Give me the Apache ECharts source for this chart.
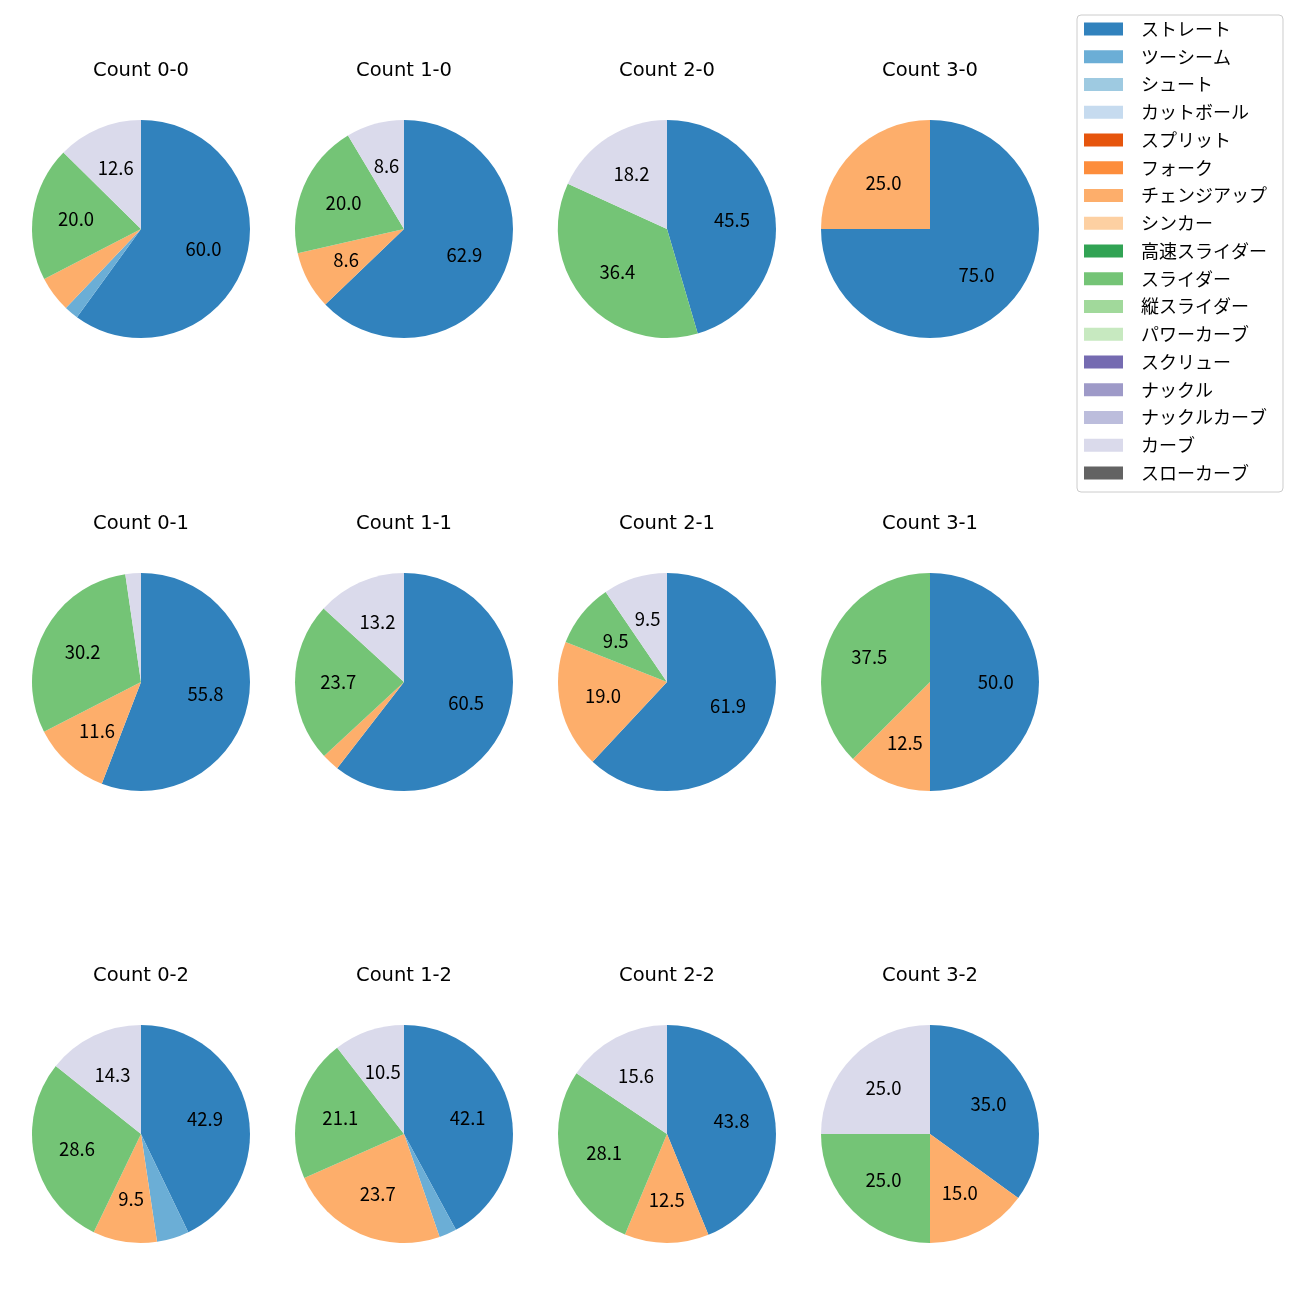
<!DOCTYPE html>
<html><head><meta charset="utf-8">
<script src="https://cdn.jsdelivr.net/npm/echarts@6/dist/echarts.min.js"></script>
<style>html,body{margin:0;padding:0;background:#fff}#c{width:1300px;height:1300px}</style>
</head><body><div id="c"></div>
<script>
const pitchTypes = ['ストレート','ツーシーム','シュート','カットボール','スプリット','フォーク','チェンジアップ','シンカー','高速スライダー','スライダー','縦スライダー','パワーカーブ','スクリュー','ナックル','ナックルカーブ','カーブ','スローカーブ'];
const palette = ['#3182bd','#6baed6','#9ecae1','#c6dbef','#e6550d','#fd8d3c','#fdae6b','#fdd0a2','#31a354','#74c476','#a1d99b','#c7e9c0','#756bb1','#9e9ac8','#bcbddc','#dadaeb','#636363'];
const countLabels = ['0-0','1-0','2-0','3-0','0-1','1-1','2-1','3-1','0-2','1-2','2-2','3-2'];
// percentages per pitch type (same order as pitchTypes)
const c00 = [60.0,2.1,0,0,0,0,5.3,0,0,20.0,0,0,0,0,0,12.6,0];
const c10 = [62.9,0,0,0,0,0,8.6,0,0,20.0,0,0,0,0,0,8.6,0];
const c20 = [45.5,0,0,0,0,0,0,0,0,36.4,0,0,0,0,0,18.2,0];
const c30 = [75.0,0,0,0,0,0,25.0,0,0,0,0,0,0,0,0,0,0];
const c01 = [55.8,0,0,0,0,0,11.6,0,0,30.2,0,0,0,0,0,2.3,0];
const c11 = [60.5,0,0,0,0,0,2.6,0,0,23.7,0,0,0,0,0,13.2,0];
const c21 = [61.9,0,0,0,0,0,19.0,0,0,9.5,0,0,0,0,0,9.5,0];
const c31 = [50.0,0,0,0,0,0,12.5,0,0,37.5,0,0,0,0,0,0,0];
const c02 = [42.9,4.8,0,0,0,0,9.5,0,0,28.6,0,0,0,0,0,14.3,0];
const c12 = [42.1,2.6,0,0,0,0,23.7,0,0,21.1,0,0,0,0,0,10.5,0];
const c22 = [43.8,0,0,0,0,0,12.5,0,0,28.1,0,0,0,0,0,15.6,0];
const c32 = [35.0,0,0,0,0,0,15.0,0,0,25.0,0,0,0,0,0,25.0,0];
const allCounts = [c00,c10,c20,c30,c01,c11,c21,c31,c02,c12,c22,c32];

const FONT = '"Noto Sans CJK JP", "Noto Sans", sans-serif';
const TITLE_FONT = '"DejaVu Sans", sans-serif';
const colX = [141, 404, 667, 930];
const rowY = [229, 682, 1134];
const R = 109;

const series = [];
const titles = [];
allCounts.forEach((vals, i) => {
  const cx = colX[i % 4], cy = rowY[Math.floor(i / 4)];
  titles.push({
    text: 'Count ' + countLabels[i], left: cx, top: cy - 158,
    textAlign: 'center', textVerticalAlign: 'middle', padding: 0,
    textStyle: { fontSize: 19.5, fontWeight: 'normal', color: '#000', fontFamily: TITLE_FONT }
  });
  series.push({
    type: 'pie', center: [cx, cy], radius: [0, R], startAngle: 90, clockwise: true,
    avoidLabelOverlap: false, silent: true, animation: false,
    label: { show: false }, labelLine: { show: false },
    data: pitchTypes.map((n, k) => ({ name: n, value: vals[k], itemStyle: { color: palette[k], borderWidth: 0 } }))
  });
  series.push({
    type: 'pie', center: [cx, cy], radius: [R * 0.15, R], startAngle: 90, clockwise: true,
    avoidLabelOverlap: false, silent: true, animation: false,
    itemStyle: { color: 'rgba(0,0,0,0)', borderWidth: 0 },
    label: {
      show: true, position: 'inside', color: '#000', fontSize: 18.5, fontFamily: FONT,
      padding: [0, 0, 4, 0],
      formatter: p => (p.value >= 7 ? p.value.toFixed(1) : '')
    },
    labelLine: { show: false },
    data: pitchTypes.map((n, k) => ({ name: n, value: vals[k] }))
  });
});

const chart = echarts.init(document.getElementById('c'), null, { renderer: 'canvas' });
chart.setOption({
  animation: false,
  backgroundColor: '#fff',
  title: titles,
  legend: {
    orient: 'vertical', left: 1077, top: 15,
    data: pitchTypes, icon: 'rect', itemWidth: 39, itemHeight: 13, itemGap: 9.75,
    padding: [5, 16, 10, 7], borderColor: '#cccccc', borderWidth: 1, borderRadius: 4,
    selectedMode: false,
    textStyle: { fontSize: 18, lineHeight: 18, color: '#000', fontFamily: FONT, padding: [0, 0, 0, 13] }
  },
  series: series
});
</script></body></html>
